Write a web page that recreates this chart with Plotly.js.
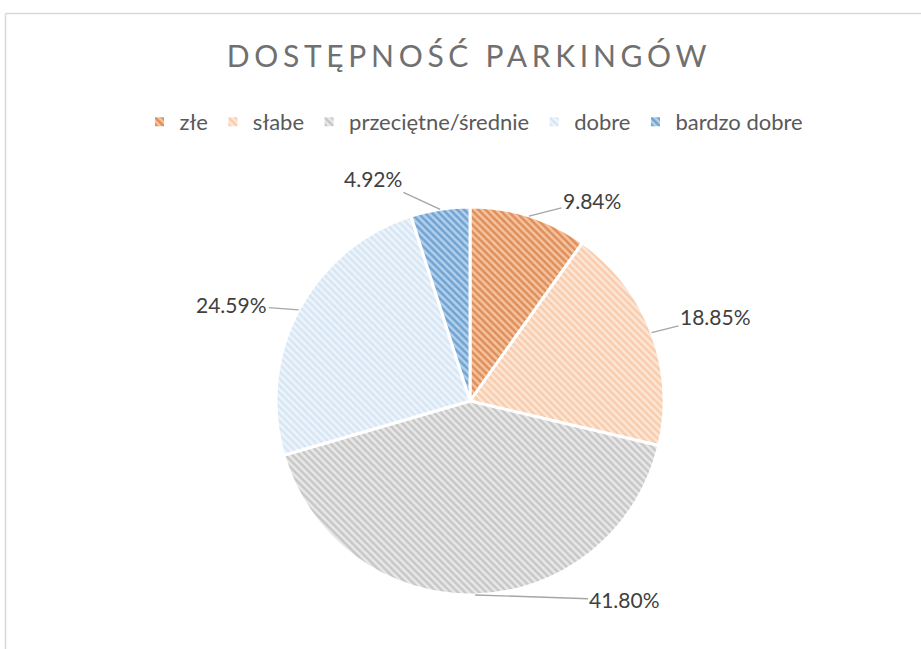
<!DOCTYPE html>
<html>
<head>
<meta charset="utf-8">
<script src="https://cdn.plot.ly/plotly-3.0.1.min.js"></script>
<style>
  html, body { margin: 0; padding: 0; background: #fff; }
  #chart { width: 921px; height: 649px; }
  .gtitle { letter-spacing: 4.7px; }
</style>
</head>
<body>
<div id="chart"></div>
<script>
// ---- data ----
const categories = ['złe', 'słabe', 'przeciętne/średnie', 'dobre', 'bardzo dobre'];
const counts = [12, 23, 51, 30, 6];
const titleText = 'DOSTĘPNOŚĆ PARKINGÓW';

// ---- styles ----
const fgColors = ['#C55A11', '#F4B183', '#A5A5A5', '#BDD7EE', '#2E75B6'];
const bgColors = ['#F6C3A0', '#FCE6D6', '#E8E8E8', '#EEF4FB', '#B3D0EC'];
// label offsets (px) from slice edge point, Excel-like placement
const labelOffsets = [[63, -16], [64, -16], [150, 5], [-67, -5], [-67, -31]];

const W = 921, H = 649;
const cx = 470, cy = 401, R = 194;

const total = counts.reduce((a, b) => a + b, 0);
const annotations = [];
let cum = 0;
counts.forEach((v, i) => {
  const mid = (cum + v / 2) / total * 2 * Math.PI;
  cum += v;
  const px = cx + R * Math.sin(mid);
  const py = cy - R * Math.cos(mid);
  annotations.push({
    xref: 'paper', yref: 'paper',
    x: px / W, y: 1 - py / H,
    ax: labelOffsets[i][0], ay: labelOffsets[i][1],
    text: (v / total * 100).toFixed(2) + '%',
    showarrow: true, arrowhead: 0, arrowwidth: 1.4, arrowcolor: '#A6A6A6',
    standoff: 0, startstandoff: 0,
    font: { family: 'Lato, sans-serif', size: 21, color: '#404040' }
  });
});

const trace = {
  type: 'pie',
  labels: categories,
  values: counts,
  sort: false,
  direction: 'clockwise',
  rotation: 0,
  textinfo: 'none',
  hoverinfo: 'label+percent',
  domain: { x: [(cx - R) / W, (cx + R) / W], y: [1 - (cy + R) / H, 1 - (cy - R) / H] },
  marker: {
    colors: bgColors,
    line: { color: '#FFFFFF', width: 3 },
    pattern: { shape: '\\', fgcolor: fgColors, bgcolor: bgColors, size: 5, solidity: 0.5, fillmode: 'overlay' }
  }
};

const layout = {
  width: W, height: H,
  margin: { l: 0, r: 0, t: 0, b: 0 },
  paper_bgcolor: '#FFFFFF',
  title: {
    text: titleText,
    x: 469 / W, xanchor: 'center',
    y: 1 - 56 / H, yanchor: 'middle',
    font: { family: 'Lato, sans-serif', size: 30, color: '#707070' }
  },
  showlegend: true,
  legend: {
    orientation: 'h',
    x: 474 / W, xanchor: 'center',
    y: 1 - 122 / H, yanchor: 'middle',
    font: { family: 'Lato, sans-serif', size: 22, color: '#595959' },
    itemwidth: 30
  },
  annotations: annotations,
  shapes: [
    { type: 'line', xref: 'paper', yref: 'paper', x0: 5.5 / W, x1: 1, y0: 1 - 13.5 / H, y1: 1 - 13.5 / H, line: { color: '#D9D9D9', width: 1.5 } },
    { type: 'line', xref: 'paper', yref: 'paper', x0: 5.5 / W, x1: 5.5 / W, y0: 0, y1: 1 - 13.5 / H, line: { color: '#D9D9D9', width: 1.5 } }
  ]
};

Plotly.newPlot('chart', [trace], layout, { displayModeBar: false, staticPlot: true });
</script>
</body>
</html>
